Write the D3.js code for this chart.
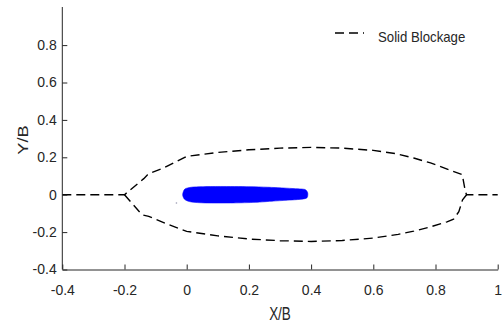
<!DOCTYPE html>
<html>
<head>
<meta charset="utf-8">
<script src="https://cdn.jsdelivr.net/npm/d3@7"></script>
<style>
  html, body { margin: 0; padding: 0; background: #fff; }
  svg { display: block; }
  text { font-family: "Liberation Sans", Arial, sans-serif; fill: #262626; }
</style>
</head>
<body>
<svg id="chart" width="502" height="325"></svg>
<script>
// ---- data ----
const xTicks = [-0.4, -0.2, 0, 0.2, 0.4, 0.6, 0.8, 1];
const yTicks = [-0.4, -0.2, 0, 0.2, 0.4, 0.6, 0.8];

// Solid blockage outline (upper branch, incl. upstream & downstream centreline)
const upperX = [-0.4, -0.2, -0.138, -0.126, -0.117, -0.074, 0.0, 0.1, 0.2, 0.3, 0.4, 0.5, 0.6, 0.67, 0.73, 0.784, 0.842, 0.886, 0.896, 0.9, 1.0];
const upperY = [0, 0, 0.086, 0.107, 0.116, 0.143, 0.205, 0.226, 0.240, 0.249, 0.253, 0.249, 0.237, 0.220, 0.196, 0.170, 0.134, 0.107, 0.018, 0, 0];
// lower branch
const lowerX = [-0.2, -0.144, -0.122, -0.058, 0.0, 0.1, 0.2, 0.3, 0.4, 0.5, 0.6, 0.68, 0.73, 0.784, 0.837, 0.858, 0.875, 0.887, 0.9];
const lowerY = [0, -0.107, -0.116, -0.160, -0.196, -0.220, -0.237, -0.246, -0.250, -0.245, -0.232, -0.212, -0.195, -0.172, -0.145, -0.131, -0.091, -0.027, 0];

// particle cloud envelope (clockwise from left end)
const blobX = [-0.013, -0.006, 0.015, 0.05, 0.108, 0.2, 0.26, 0.31, 0.35, 0.38, 0.389, 0.387, 0.37, 0.33, 0.28, 0.22, 0.15, 0.06, 0.015, -0.006];
const blobY = [0.0, 0.030, 0.040, 0.043, 0.044, 0.043, 0.040, 0.036, 0.032, 0.028, 0.010, -0.016, -0.024, -0.029, -0.034, -0.041, -0.044, -0.044, -0.039, -0.026];
// stray particle
const strayX = [-0.033];
const strayY = [-0.044];

const legendLabel = "Solid Blockage";
const xLabel = "X/B";
const yLabel = "Y/B";

// ---- layout ----
const svg = d3.select("#chart");
const x = d3.scaleLinear().domain([-0.4, 1]).range([62.3, 497.7]);
const y = d3.scaleLinear().domain([-0.4, 1]).range([269.5, 7.7]);

// particle cloud
const blobPts = blobX.map((v, i) => [v, blobY[i]]);
const blobLine = d3.line().x(d => x(d[0])).y(d => y(d[1])).curve(d3.curveCardinalClosed.tension(0.2));
svg.append("path")
  .attr("d", blobLine(blobPts))
  .attr("fill", "#0000ff")
  .attr("stroke", "#0000ff")
  .attr("stroke-width", 0.8)
  .attr("stroke-opacity", 0.7);

svg.selectAll("circle.stray")
  .data(strayX.map((v, i) => [v, strayY[i]]))
  .enter().append("circle")
  .attr("class", "stray")
  .attr("cx", d => x(d[0])).attr("cy", d => y(d[1]))
  .attr("r", 0.8).attr("fill", "#9a9ab0");

// blockage outline
const line = d3.line().x(d => x(d[0])).y(d => y(d[1]));
const dash = "9,5";
[[upperX, upperY], [lowerX, lowerY]].forEach(([xs, ys]) => {
  svg.append("path")
    .attr("d", line(xs.map((v, i) => [v, ys[i]])))
    .attr("fill", "none")
    .attr("stroke", "#000")
    .attr("stroke-width", 1.4)
    .attr("stroke-dasharray", dash);
});

// axes
const xAxis = d3.axisBottom(x).tickValues(xTicks).tickSizeInner(-5).tickSizeOuter(0).tickPadding(15.6)
  .tickFormat(d => String(+d.toFixed(1)));
const yAxis = d3.axisLeft(y).tickValues(yTicks).tickSizeInner(-5).tickSizeOuter(0).tickPadding(5.6)
  .tickFormat(d => String(+d.toFixed(1)));

const gx = svg.append("g").attr("transform", `translate(0,${y(-0.4)})`).call(xAxis);
const gy = svg.append("g").attr("transform", `translate(${x(-0.4)},0)`).call(yAxis);
[gx, gy].forEach(g => {
  g.select(".domain").attr("stroke", "#262626").attr("stroke-width", 1);
  g.selectAll(".tick line").attr("stroke", "#262626").attr("stroke-width", 1);
  g.selectAll(".tick text").attr("font-size", 14).attr("font-family", "Liberation Sans, Arial, sans-serif").attr("fill", "#262626");
});
// extend y axis line to top
gy.select(".domain").attr("d", `M0,${y(-0.4)}V${y(1) - 0.7}`);

// axis labels
svg.append("text")
  .attr("transform", `translate(${(x(-0.4) + x(1)) / 2},320) scale(1,1.3)`)
  .attr("text-anchor", "middle")
  .attr("font-size", 13.5)
  .text(xLabel);
svg.append("text")
  .attr("transform", `translate(28.3,140) rotate(-90) scale(1.3,1)`)
  .attr("text-anchor", "middle")
  .attr("font-size", 14)
  .text(yLabel);

// legend
svg.append("line")
  .attr("x1", 335).attr("x2", 364).attr("y1", 33).attr("y2", 33)
  .attr("stroke", "#000").attr("stroke-width", 1.3).attr("stroke-dasharray", dash);
svg.append("text")
  .attr("transform", "translate(378,41.6) scale(1,1.15)")
  .attr("font-size", 13.2)
  .text(legendLabel);
</script>
</body>
</html>
